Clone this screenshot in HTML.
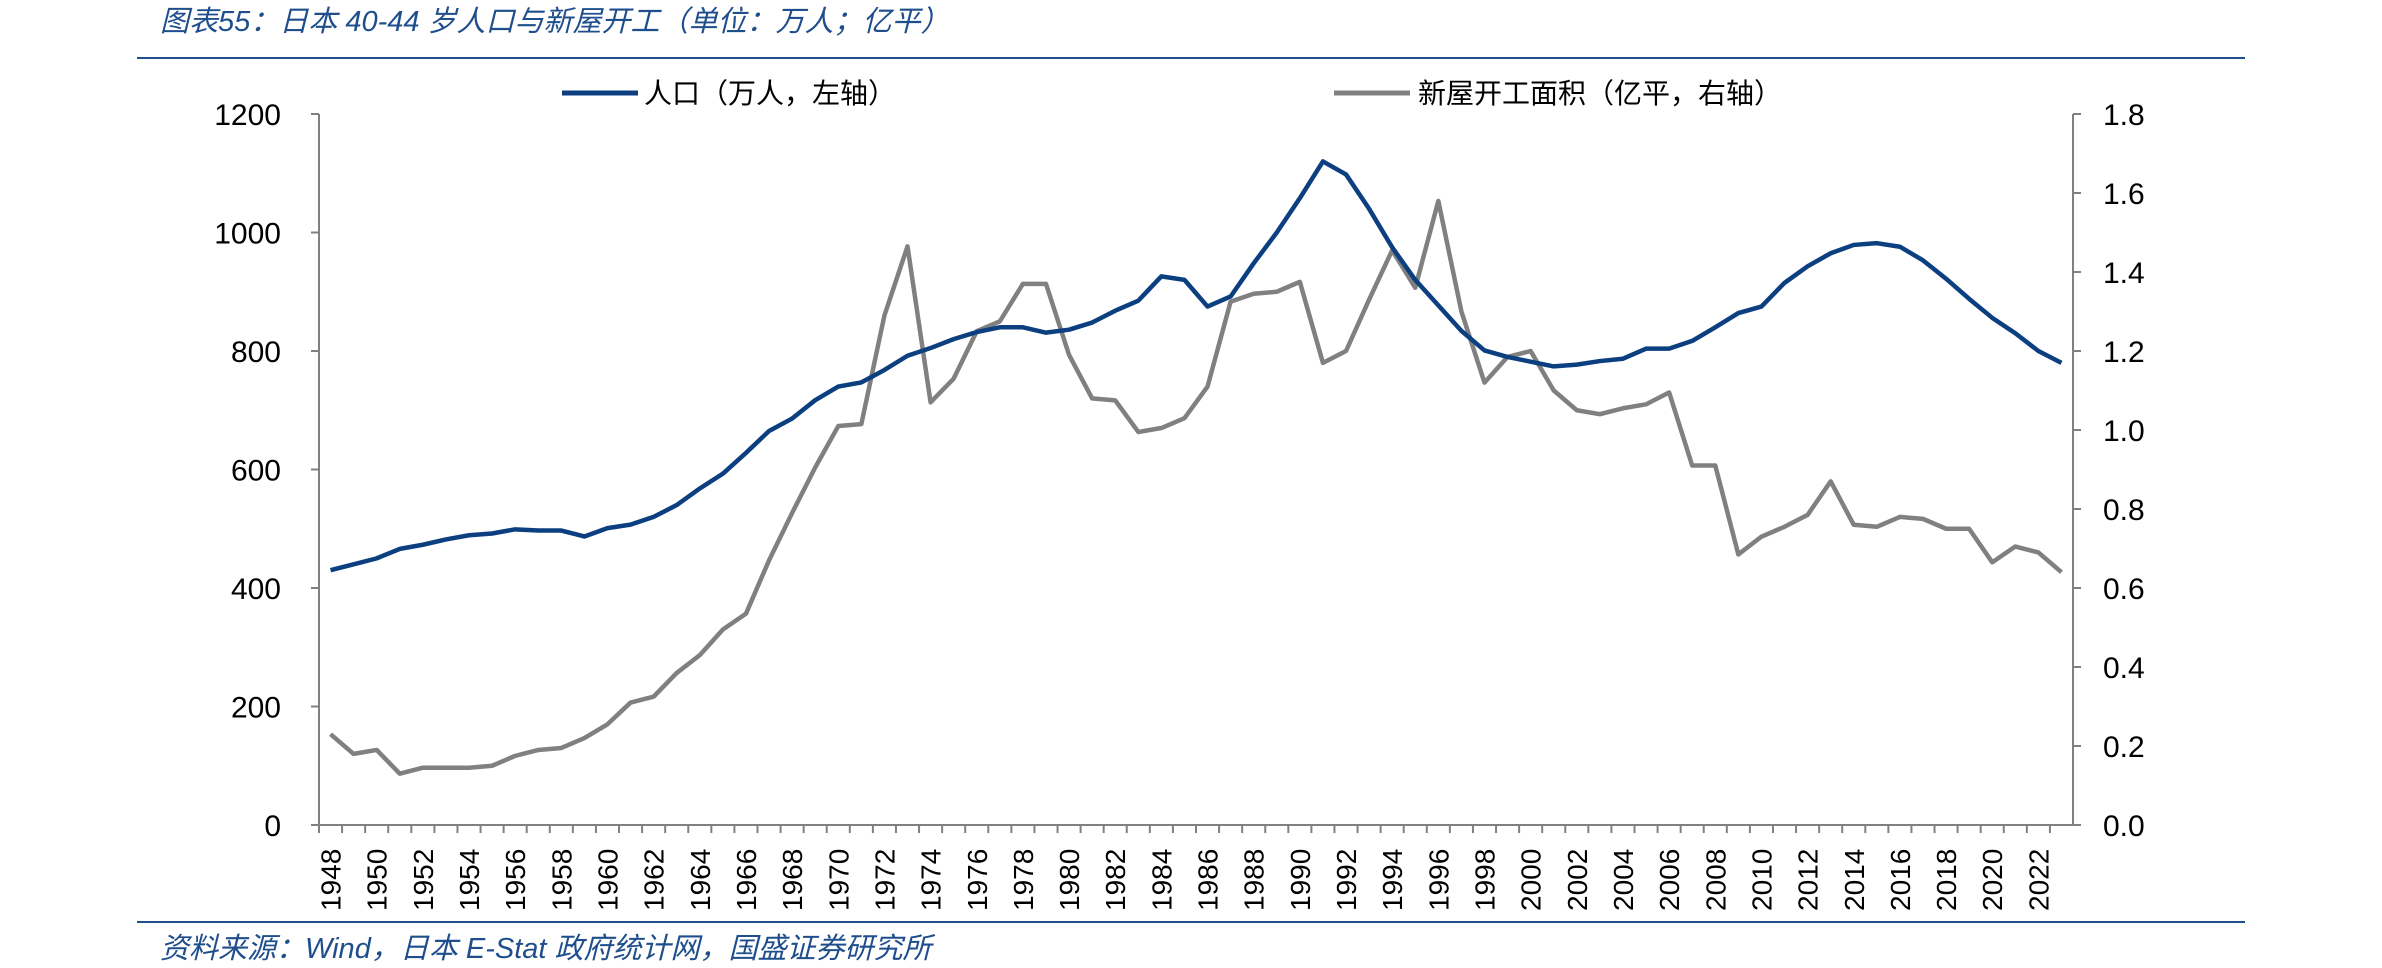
<!DOCTYPE html>
<html><head><meta charset="utf-8"><style>
body{margin:0;background:#fff;width:2382px;height:968px;overflow:hidden;font-family:"Liberation Sans","Noto Sans CJK SC",sans-serif}
svg{display:block}
</style></head><body>
<svg id="c" width="2382" height="968" xmlns="http://www.w3.org/2000/svg">
<text x="160" y="31" font-size="29" font-style="italic" fill="#1f4e8c" font-family="Liberation Sans, Noto Sans CJK SC, sans-serif">图表55：日本 40-44 岁人口与新屋开工（单位：万人；亿平）</text>
<line x1="137" y1="58" x2="2245" y2="58" stroke="#1f4e8c" stroke-width="2"/>
<line x1="137" y1="922" x2="2245" y2="922" stroke="#1f4e8c" stroke-width="2"/>
<text x="160" y="958" font-size="29" font-style="italic" fill="#1f4e8c" font-family="Liberation Sans, Noto Sans CJK SC, sans-serif">资料来源：Wind，日本 E-Stat 政府统计网，国盛证券研究所</text>
<g>
<line x1="562" y1="93" x2="638" y2="93" stroke="#0c3f80" stroke-width="5"/>
<text x="644" y="103" font-size="28" fill="#000">人口（万人，左轴）</text>
<line x1="1334" y1="93" x2="1410" y2="93" stroke="#808080" stroke-width="5"/>
<text x="1418" y="103" font-size="28" fill="#000">新屋开工面积（亿平，右轴）</text>
</g>
<g id="plot"></g>
</svg>
<script>
const years=[];for(let y=1948;y<=2023;y++)years.push(y);
const population=[430,440,450,466,473,482,489,492,499,497,497,487,501,507,520,540,568,593,628,665,686,717,740,747,768,792,805,820,832,840,840,831,836,848,868,885,926,920,875,892,948,1000,1058,1120,1098,1040,975,920,877,834,801,790,782,774,777,783,787,804,804,817,840,864,875,915,943,965,979,982,976,953,922,888,856,830,800,780];
const housing=[0.23,0.18,0.19,0.13,0.145,0.145,0.145,0.15,0.175,0.19,0.195,0.22,0.255,0.31,0.325,0.385,0.43,0.495,0.535,0.67,0.79,0.905,1.01,1.015,1.29,1.465,1.07,1.13,1.25,1.275,1.37,1.37,1.19,1.08,1.075,0.995,1.005,1.03,1.11,1.325,1.345,1.35,1.375,1.17,1.2,1.33,1.455,1.36,1.58,1.3,1.12,1.185,1.2,1.1,1.05,1.04,1.055,1.065,1.095,0.91,0.91,0.685,0.73,0.755,0.785,0.87,0.76,0.755,0.78,0.775,0.75,0.75,0.665,0.705,0.69,0.64];
const leftTicks=[0,200,400,600,800,1000,1200];
const rightTicks=[0,0.2,0.4,0.6,0.8,1.0,1.2,1.4,1.6,1.8];
const X0=319,X1=2073,Y0=825,Y1=114;
const NS='http://www.w3.org/2000/svg';
const g=document.getElementById('plot');
const bw=(X1-X0)/years.length;
const xs=i=>X0+bw*(i+0.5);
const yL=v=>Y0-(v/1200)*(Y0-Y1);
const yR=v=>Y0-(v/1.8)*(Y0-Y1);
function mk(t,a){const e=document.createElementNS(NS,t);for(const k in a)e.setAttribute(k,a[k]);g.appendChild(e);return e;}
let e;
e=mk('line',{x1:X0,y1:Y1,x2:X0,y2:Y0,stroke:'#808080','stroke-width':2});


e=mk('line',{x1:X1,y1:Y1,x2:X1,y2:Y0,stroke:'#808080','stroke-width':2});


e=mk('line',{x1:X0,y1:Y0,x2:X1,y2:Y0,stroke:'#808080','stroke-width':2});


leftTicks.forEach(v=>{
 mk('line',{x1:X0-8,y1:yL(v),x2:X0,y2:yL(v),stroke:'#808080','stroke-width':2});
 e=mk('text',{x:X0-38,y:yL(v)+11,'font-size':30,'text-anchor':'end',fill:'#000'});
 e.textContent=v;
 
 
});
rightTicks.forEach(v=>{
 mk('line',{x1:X1,y1:yR(v),x2:X1+8,y2:yR(v),stroke:'#808080','stroke-width':2});
 e=mk('text',{x:X1+30,y:yR(v)+11,'font-size':30,fill:'#000'});
 e.textContent=v.toFixed(1);
 
 
});
years.forEach((y,i)=>{
 mk('line',{x1:X0+bw*i,y1:Y0,x2:X0+bw*i,y2:Y0+8,stroke:'#808080','stroke-width':2});
 if(i%2===0){
  e=mk('text',{x:0,y:0,'font-size':28,fill:'#000',transform:`translate(${xs(i)+10},911) rotate(-90)`});
  e.textContent=y;
  
  
 }
});
e=mk('polyline',{points:housing.map((v,i)=>xs(i)+','+yR(v)).join(' '),fill:'none',stroke:'#808080','stroke-width':4.5,'stroke-linejoin':'round'});


e=mk('polyline',{points:population.map((v,i)=>xs(i)+','+yL(v)).join(' '),fill:'none',stroke:'#0c3f80','stroke-width':4.5,'stroke-linejoin':'round'});


</script>
</body></html>
